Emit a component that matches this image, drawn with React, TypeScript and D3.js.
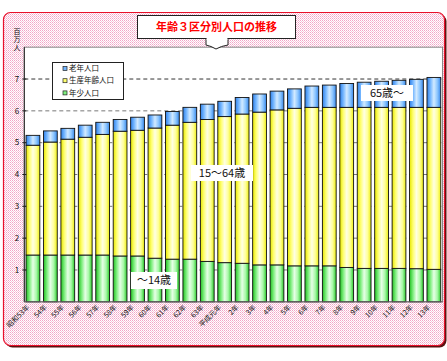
import React from "react";
import * as d3 from "d3";

const categories = [
  "昭和53年","54年","55年","56年","57年","58年","59年","60年","61年","62年","63年",
  "平成元年","2年","3年","4年","5年","6年","7年","8年","9年","10年","11年","12年","13年",
];
// millions of people
const young = [1.47,1.47,1.47,1.47,1.47,1.44,1.44,1.37,1.34,1.34,1.27,1.23,1.21,1.16,1.16,1.13,1.13,1.13,1.08,1.05,1.05,1.05,1.04,1.02];
const working = [3.45,3.55,3.64,3.70,3.79,3.92,3.95,4.09,4.21,4.30,4.46,4.59,4.69,4.80,4.87,4.95,4.98,4.98,5.03,5.06,5.06,5.06,5.07,5.09];
const elderly = [0.31,0.35,0.34,0.38,0.38,0.37,0.41,0.41,0.43,0.47,0.48,0.48,0.52,0.57,0.59,0.61,0.67,0.70,0.75,0.79,0.82,0.85,0.88,0.94];
const yTicks = [1, 2, 3, 4, 5, 6, 7];
const seriesKeys = ["young", "working", "elderly"];
const legendLabels = ["老年人口", "生産年齢人口", "年少人口"];
const legendKeys = ["elderly", "working", "young"];
const unitLabel = "百万人";

const JP = "'Noto Sans CJK JP', 'Noto Sans', sans-serif";

const grads: Record<string, string[]> = {
  young: ["#22c022", "#7eee7e", "#e6ffe6", "#a8f8a8", "#2ccc2c"],
  working: ["#e6e600", "#ffff70", "#ffffe4", "#ffff98", "#eeee10"],
  elderly: ["#2f80e8", "#74b6ff", "#d2eaff", "#8cc6ff", "#3888ec"],
};

export default function App() {
  const W = 447, H = 361;
  const left = 24.3, right = 442.5, top = 47.2, bottom = 301.8;
  const table = categories.map((c, i) => ({ cat: c, young: young[i], working: working[i], elderly: elderly[i] }));
  const x = d3.scaleBand<string>().domain(categories).range([left, right]).paddingInner(0.21).paddingOuter(0.1);
  const y = d3.scaleLinear().domain([0, 8]).range([bottom, top]);
  const stacked = d3.stack<any>().keys(seriesKeys)(table);

  return (
    <svg width={W} height={H} style={{ position: "absolute", left: 0, top: 0 }}>
      <defs>
        <pattern id="pink" width="2" height="2" patternUnits="userSpaceOnUse">
          <rect width="2" height="2" fill="#ffffff" />
          <rect x="0" y="0" width="1" height="1" fill="#f2a4c6" />
          <rect x="1" y="1" width="1" height="1" fill="#f7c6dc" />
        </pattern>
        {Object.keys(grads).map((k) => (
          <linearGradient id={"g-" + k} key={k} x1="0" x2="1" y1="0" y2="0">
            {grads[k].map((c, i) => (
              <stop key={i} offset={i / (grads[k].length - 1)} stopColor={c} />
            ))}
          </linearGradient>
        ))}
      </defs>
      <rect x={0} y={0} width={W} height={H} fill="#fff" />
      {/* frame */}
      <rect x={5.5} y={14.5} width={441} height={333} rx={7} fill="#5a1010" />
      <rect x={3.5} y={12.5} width={441} height={333} rx={7} fill="url(#pink)" stroke="#e8102a" strokeWidth={1.2} />
      {/* plot area */}
      <rect x={left} y={top} width={right - left} height={bottom - top} fill="#fff" stroke="#888" strokeWidth={1} />
      {yTicks.map((t) => (
        <line key={t} x1={left} x2={right} y1={y(t)} y2={y(t)} stroke={t === 7 ? "#333" : "#777"} strokeDasharray="4,3" strokeWidth={1} />
      ))}
      {/* bars */}
      {stacked.map((s) => (
        <g key={s.key}>
          {s.map((d: any, i: number) => (
            <rect key={i} x={x(categories[i])} y={y(d[1])} width={x.bandwidth()} height={y(d[0]) - y(d[1])}
              fill={`url(#g-${s.key})`} stroke="#111" strokeWidth={0.9} />
          ))}
        </g>
      ))}
      <line x1={left} x2={left} y1={top} y2={bottom} stroke="#222" />
      <line x1={left} x2={right} y1={bottom} y2={bottom} stroke="#666" />
      {yTicks.map((t) => (
        <g key={"yt" + t}>
          <line x1={left - 2} x2={left + 2} y1={y(t)} y2={y(t)} stroke="#222" />
          <text x={17} y={y(t)} dy="0.35em" fontSize={8} fontFamily={JP} textAnchor="middle" fill="#111">{t}</text>
        </g>
      ))}
      {/* unit */}
      <text x={17} y={28} fontSize={7} fontFamily={JP} fill="#111" letterSpacing={1}
        style={{ writingMode: "vertical-rl" as any }}>{unitLabel}</text>
      {/* x labels */}
      {categories.map((c) => (
        <text key={c} transform={`translate(${(x(c) as number) + x.bandwidth() / 2 - 3},${bottom + 6}) rotate(-45)`}
          fontSize={7} fontFamily={JP} textAnchor="end" fill="#111">{c}</text>
      ))}
      {/* legend */}
      <rect x={52.5} y={62.5} width={71} height={37} fill="#fff" stroke="#222" />
      {legendKeys.map((k, i) => (
        <g key={k}>
          <rect x={63} y={66.5 + i * 12.2} width={4} height={4} fill={grads[k][1]} stroke="#222" strokeWidth={0.7} />
          <text x={69} y={68.5 + i * 12.2} dy="0.35em" fontSize={7.5} fontFamily={JP} fill="#111">{legendLabels[i]}</text>
        </g>
      ))}
      {/* title bubble */}
      <path d="M206,38 L206,45 Q211,46 216,49 Q221,46 228,45 L228,38" fill="#fff" stroke="#222" strokeWidth={1} />
      <rect x={137.5} y={15.5} width={158} height={23} fill="#fff" stroke="#222" />
      <rect x={206.6} y={36} width={20.8} height={4} fill="#fff" />
      <text x={216.5} y={27.5} dy="0.35em" textAnchor="middle" fontSize={11} fontWeight="bold" fontFamily={JP} fill="#f00">年齢３区分別人口の推移</text>
      {/* annotations */}
      <rect x={361} y={85} width={52} height={16} fill="#fff" />
      <text x={387} y={93.5} dy="0.35em" textAnchor="middle" fontSize={11} fontFamily={JP} fill="#111">65歳～</text>
      <rect x={191} y={165} width={62} height={16} fill="#fff" />
      <text x={222} y={173.5} dy="0.35em" textAnchor="middle" fontSize={11} fontFamily={JP} fill="#111">15～64歳</text>
      <rect x={131} y={272} width={46} height={17} fill="#fff" />
      <text x={154} y={280.5} dy="0.35em" textAnchor="middle" fontSize={11} fontFamily={JP} fill="#111">～14歳</text>
    </svg>
  );
}
